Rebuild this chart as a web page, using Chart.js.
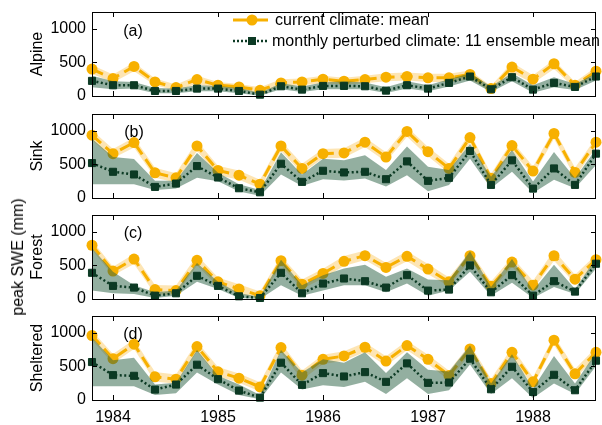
<!DOCTYPE html>
<html>
<head>
<meta charset="utf-8">
<script src="https://cdn.jsdelivr.net/npm/chart.js@4.4.1/dist/chart.umd.min.js"></script>
<style>
html, body { margin: 0; padding: 0; background: #fff; overflow: hidden; width: 602px; height: 425px; }
body { position: relative; font-family: "Liberation Sans", Arial, sans-serif; color: #000; }
canvas { position: absolute; left: 0; }
.lab { position: absolute; font-size: 16px; white-space: nowrap; transform: translate(-50%, -50%); }
.leg { position: absolute; font-size: 16px; white-space: nowrap; transform: translateY(-50%); }
#ylab { transform: translate(-50%, -50%) rotate(-90deg); }
</style>
</head>
<body>
<canvas id="pa" width="602" height="120" style="top:-6px"></canvas>
<canvas id="pb" width="602" height="120" style="top:96px"></canvas>
<canvas id="pc" width="602" height="120" style="top:197px"></canvas>
<canvas id="pd" width="602" height="127" style="top:298px"></canvas>

<svg style="position:absolute;left:0;top:0" width="602" height="60">
  <line x1="233" y1="20" x2="268" y2="20" stroke="#f7b000" stroke-width="3" stroke-dasharray="15 6"/>
  <circle cx="252" cy="20" r="5.5" fill="#f7b000"/>
  <line x1="233" y1="41" x2="268" y2="41" stroke="#0c3a24" stroke-width="2.5" stroke-dasharray="2 2"/>
  <rect x="248" y="37" width="8" height="8" fill="#0c3a24"/>
</svg>
<div class="leg" style="left:275px;top:20px">current climate: mean</div>
<div class="leg" style="left:272px;top:41px">monthly perturbed climate: 11 ensemble mean</div>

<div class="lab" style="left:133px;top:31px">(a)</div>
<div class="lab" style="left:134px;top:132px">(b)</div>
<div class="lab" style="left:133px;top:233px">(c)</div>
<div class="lab" style="left:133px;top:334px">(d)</div>
<div class="lab" id="ylab" style="left:18px;top:257px">peak SWE (mm)</div>

<script>
// sample times (decimal year), one every 0.2 yr
const years = [1983.8, 1984.0, 1984.2, 1984.4, 1984.6, 1984.8, 1985.0, 1985.2, 1985.4, 1985.6,
               1985.8, 1986.0, 1986.2, 1986.4, 1986.6, 1986.8, 1987.0, 1987.2, 1987.4, 1987.6,
               1987.8, 1988.0, 1988.2, 1988.4, 1988.6];
const yearTicks = [1984, 1985, 1986, 1987, 1988];
const sweTicks = [0, 500, 1000];

// (a) Alpine
const alpineCur    = [400, 260, 440, 210, 125, 245, 160, 135, 85, 195, 210, 250, 220, 245, 280, 290, 270, 270, 320, 110, 430, 250, 480, 160, 370];
const alpineCurLo  = [330, 200, 370, 160, 80, 180, 110, 90, 40, 140, 160, 190, 170, 190, 220, 230, 210, 210, 250, 70, 350, 190, 400, 110, 300];
const alpineCurHi  = [460, 320, 500, 260, 170, 300, 210, 180, 130, 250, 260, 300, 270, 300, 340, 350, 330, 330, 380, 150, 500, 310, 540, 210, 430];
const alpinePert   = [225, 160, 160, 75, 75, 110, 110, 75, 20, 145, 95, 150, 150, 145, 80, 160, 110, 195, 290, 100, 280, 95, 195, 135, 290];
const alpinePertLo = [130, 100, 110, 40, 40, 70, 70, 40, 5, 100, 60, 100, 100, 100, 45, 110, 70, 140, 230, 60, 220, 50, 130, 90, 230];
const alpinePertHi = [300, 220, 210, 120, 110, 160, 150, 120, 50, 190, 140, 200, 220, 200, 130, 220, 160, 250, 340, 140, 340, 160, 280, 180, 340];

// (b) Sink
const sinkCur    = [935, 660, 825, 375, 300, 775, 410, 340, 205, 775, 440, 660, 670, 830, 610, 990, 690, 440, 900, 295, 780, 400, 960, 380, 830];
const sinkCurLo  = [860, 590, 750, 300, 230, 700, 340, 270, 140, 700, 370, 590, 600, 760, 540, 910, 620, 370, 820, 230, 700, 330, 880, 310, 760];
const sinkCurHi  = [1010, 730, 900, 450, 370, 850, 480, 410, 270, 850, 510, 730, 740, 900, 680, 1060, 760, 510, 970, 360, 850, 470, 1030, 450, 900];
const sinkPert   = [520, 390, 350, 165, 215, 475, 305, 145, 85, 510, 240, 405, 380, 390, 280, 545, 255, 300, 700, 195, 560, 140, 440, 195, 660];
const sinkPertLo = [205, 205, 205, 120, 140, 300, 250, 95, 35, 350, 180, 280, 260, 290, 170, 340, 100, 195, 585, 145, 390, 75, 270, 145, 490];
const sinkPertHi = [880, 610, 580, 255, 255, 670, 375, 205, 120, 680, 350, 585, 560, 635, 415, 765, 465, 415, 805, 315, 715, 245, 685, 295, 730];

// (c) Forest
const forestCur    = [800, 415, 595, 140, 125, 575, 255, 150, 50, 570, 220, 380, 560, 645, 470, 635, 445, 255, 645, 190, 550, 205, 645, 295, 585];
const forestCurLo  = [730, 350, 520, 70, 60, 500, 190, 80, 5, 500, 150, 310, 490, 580, 400, 560, 370, 190, 580, 120, 480, 140, 570, 230, 510];
const forestCurHi  = [870, 480, 670, 210, 200, 650, 320, 220, 110, 640, 290, 450, 640, 720, 540, 710, 520, 320, 710, 260, 620, 270, 720, 360, 660];
const forestPert   = [390, 195, 170, 50, 85, 345, 195, 40, 15, 390, 85, 230, 305, 265, 170, 355, 125, 140, 500, 100, 355, 50, 265, 110, 525];
const forestPertLo = [125, 85, 75, 15, 50, 255, 150, 15, 0, 205, 50, 125, 205, 205, 100, 230, 50, 125, 405, 50, 240, 15, 180, 75, 455];
const forestPertHi = [760, 405, 205, 100, 125, 535, 255, 85, 35, 585, 205, 355, 455, 510, 330, 455, 290, 280, 710, 180, 595, 125, 510, 150, 610];

// (d) Sheltered
const shelCur    = [960, 615, 830, 345, 310, 795, 420, 325, 195, 780, 370, 605, 655, 785, 580, 810, 605, 365, 760, 245, 710, 270, 890, 390, 710];
const shelCurLo  = [890, 545, 760, 275, 240, 720, 350, 255, 125, 710, 300, 535, 585, 715, 510, 740, 535, 295, 690, 175, 640, 200, 820, 320, 640];
const shelCurHi  = [1030, 685, 900, 415, 380, 865, 490, 395, 265, 850, 440, 675, 725, 855, 650, 880, 675, 435, 830, 315, 780, 340, 960, 460, 780];
const shelPert   = [565, 370, 360, 155, 230, 525, 310, 140, 35, 555, 225, 400, 350, 415, 270, 545, 255, 260, 615, 160, 495, 120, 375, 145, 585];
const shelPertLo = [205, 205, 205, 75, 100, 410, 230, 75, 10, 410, 155, 220, 195, 270, 90, 325, 90, 145, 530, 90, 325, 30, 245, 90, 505];
const shelPertHi = [930, 590, 630, 230, 255, 745, 360, 230, 75, 745, 410, 605, 555, 710, 400, 710, 450, 425, 810, 245, 680, 170, 655, 245, 710];

const ORANGE = '#f7b000';
const ORANGE_BAND = 'rgba(250, 180, 40, 0.35)';
const GREEN = '#0c3a24';
const GREEN_BAND = 'rgba(40, 95, 65, 0.5)';

function pts(arr) {
    return arr.map((v, i) => ({ x: years[i], y: v }));
}

// frame + inward ticks on all four sides, like the original
const framePlugin = {
    id: 'frame',
    afterDraw(chart) {
        const { ctx, chartArea: a, scales } = chart;
        ctx.save();
        ctx.strokeStyle = '#000';
        ctx.lineWidth = 1;
        ctx.strokeRect(a.left + 0.5, a.top + 0.5, a.right - a.left - 1, a.bottom - a.top);
        ctx.beginPath();
        yearTicks.forEach(t => {
            const x = Math.round(scales.x.getPixelForValue(t)) + 0.5;
            ctx.moveTo(x, a.top); ctx.lineTo(x, a.top + 5);
            ctx.moveTo(x, a.bottom); ctx.lineTo(x, a.bottom - 5);
        });
        sweTicks.slice(1).forEach(t => {
            const y = Math.round(scales.y.getPixelForValue(t)) + 0.5;
            ctx.moveTo(a.left, y); ctx.lineTo(a.left + 5, y);
            ctx.moveTo(a.right, y); ctx.lineTo(a.right - 5, y);
        });
        ctx.stroke();
        ctx.restore();
    }
};

function makePanel(id, name, cur, curLo, curHi, pert, pertLo, pertHi, showX) {
    const band = { borderWidth: 0, borderColor: 'transparent', pointRadius: 0, tension: 0 };
    new Chart(document.getElementById(id), {
        type: 'line',
        data: {
            datasets: [
                Object.assign({ data: pts(curLo), order: 6, fill: false }, band),
                Object.assign({ data: pts(curHi), order: 5, fill: '-1', backgroundColor: ORANGE_BAND }, band),
                {
                    data: pts(cur), order: 4, fill: false, clip: false,
                    borderColor: ORANGE, borderWidth: 3, borderDash: [12, 6],
                    pointRadius: 5.5, pointBackgroundColor: ORANGE, pointBorderWidth: 0, tension: 0
                },
                Object.assign({ data: pts(pertLo), order: 3, fill: false }, band),
                Object.assign({ data: pts(pertHi), order: 2, fill: '-1', backgroundColor: GREEN_BAND }, band),
                {
                    data: pts(pert), order: 1, fill: false, clip: false,
                    borderColor: GREEN, borderWidth: 2.5, borderDash: [2, 2.5],
                    pointStyle: 'rect', pointRadius: 5, pointBackgroundColor: GREEN,
                    pointBorderColor: GREEN, pointBorderWidth: 1, tension: 0
                }
            ]
        },
        options: {
            responsive: false,
            animation: false,
            devicePixelRatio: 1,
            layout: { padding: { top: 18, bottom: showX ? 0 : 18, left: 0, right: 3 } },
            plugins: { legend: { display: false }, tooltip: { enabled: false } },
            scales: {
                x: {
                    type: 'linear',
                    min: years[0],
                    max: years[years.length - 1],
                    display: showX,
                    grid: { display: false, drawTicks: false },
                    border: { display: false },
                    afterFit: s => { if (showX) s.height = 25; },
                    afterBuildTicks: s => { s.ticks = yearTicks.map(v => ({ value: v })); },
                    ticks: {
                        padding: 8, maxRotation: 0, autoSkip: false,
                        color: '#000', font: { family: 'Liberation Sans', size: 16 },
                        callback: v => String(v)
                    }
                },
                y: {
                    min: 0,
                    max: 1250,
                    grid: { display: false, drawTicks: false },
                    border: { display: false },
                    afterFit: s => { s.width = 92; },
                    afterBuildTicks: s => { s.ticks = sweTicks.map(v => ({ value: v })); },
                    ticks: {
                        padding: 6, color: '#000',
                        font: { family: 'Liberation Sans', size: 16 },
                        callback: v => String(v)
                    },
                    title: {
                        display: true, text: name, color: '#000',
                        font: { family: 'Liberation Sans', size: 16 },
                        padding: { top: 28, bottom: 0 }
                    }
                }
            }
        },
        plugins: [framePlugin]
    });
}

makePanel('pa', 'Alpine', alpineCur, alpineCurLo, alpineCurHi, alpinePert, alpinePertLo, alpinePertHi, false);
makePanel('pb', 'Sink', sinkCur, sinkCurLo, sinkCurHi, sinkPert, sinkPertLo, sinkPertHi, false);
makePanel('pc', 'Forest', forestCur, forestCurLo, forestCurHi, forestPert, forestPertLo, forestPertHi, false);
makePanel('pd', 'Sheltered', shelCur, shelCurLo, shelCurHi, shelPert, shelPertLo, shelPertHi, true);
</script>
</body>
</html>
